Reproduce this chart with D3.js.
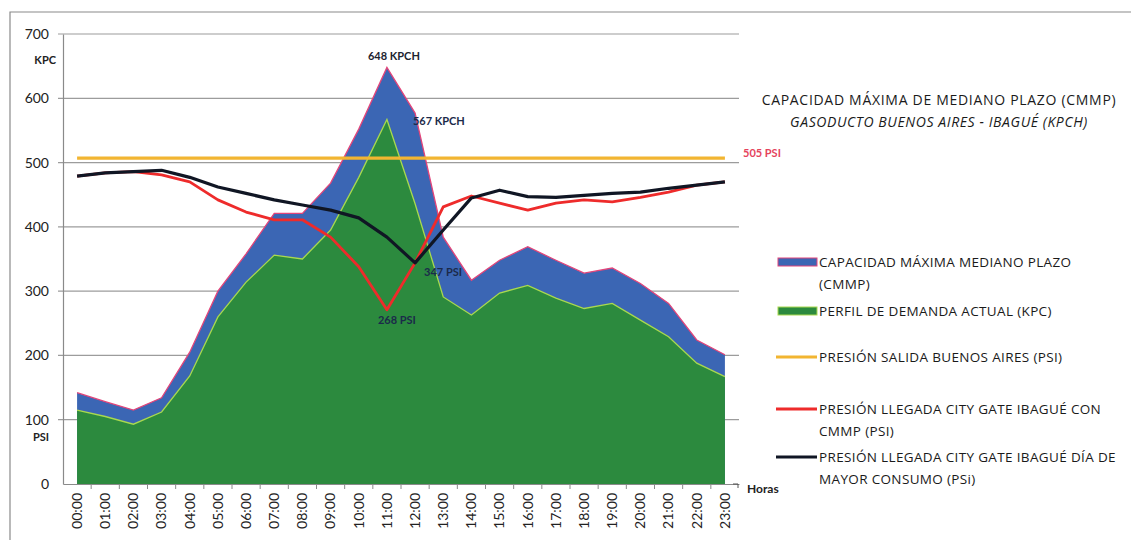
<!DOCTYPE html>
<html>
<head>
<meta charset="utf-8">
<script src="https://cdn.jsdelivr.net/npm/d3@7"></script>
<style>
  body { margin: 0; background: #fff; }
  svg { display: block; font-family: Lato, 'Open Sans', sans-serif; }
</style>
</head>
<body>
<div id="chart"></div>
<script>
// Data
const hours = ['00:00','01:00','02:00','03:00','04:00','05:00','06:00','07:00','08:00','09:00','10:00','11:00',
               '12:00','13:00','14:00','15:00','16:00','17:00','18:00','19:00','20:00','21:00','22:00','23:00'];
const cmmp = [142,128,115,134,205,300,358,421,421,468,552,648,577,384,317,348,369,348,328,336,312,281,224,201];
const demanda = [115,105,93,112,168,260,314,356,350,395,477,567,436,291,263,297,309,289,273,281,255,229,188,167];
const salidaBA = [507,507,507,507,507,507,507,507,507,507,507,507,507,507,507,507,507,507,507,507,507,507,507,507];
const llegadaCmmp = [479,484,486,481,470,442,423,411,411,384,338,271,344,431,448,437,426,437,442,439,446,454,465,470];
const llegadaMax = [479,484,486,488,477,462,452,442,434,426,414,384,344,395,445,457,447,446,449,452,454,460,465,470];
const yTicks = [0,100,200,300,400,500,600,700];

const W = 1131, H = 540;
const plot = { left: 63, right: 739, top: 34, bottom: 484 };

const svg = d3.select('#chart').append('svg')
    .attr('width', W)
    .attr('height', H);

// Outer frame of the scanned chart
svg.append('path')
    .attr('d', `M10,${H} L10,12 L${W},12`)
    .attr('fill', 'none')
    .attr('stroke', '#8a8a8a')
    .attr('stroke-width', 1.2);

const x = d3.scaleBand()
    .domain(hours)
    .range([plot.left, plot.right])
    .padding(0);
const xc = h => x(h) + x.bandwidth() / 2;

const y = d3.scaleLinear()
    .domain([0, 700])
    .range([plot.bottom, plot.top]);

// Gridlines
svg.append('g')
    .selectAll('line')
    .data(yTicks.filter(d => d > 0))
    .enter()
    .append('line')
    .attr('x1', plot.left - 5)
    .attr('x2', plot.right)
    .attr('y1', d => y(d))
    .attr('y2', d => y(d))
    .attr('stroke', '#9c9c9c')
    .attr('stroke-width', 1.2);

// Areas
const rows = hours.map((h, i) => ({ h, cmmp: cmmp[i], dem: demanda[i] }));

svg.append('path')
    .datum(rows)
    .attr('d', d3.area().x(d => xc(d.h)).y0(y(0)).y1(d => y(d.cmmp)))
    .attr('fill', '#3b66b4');
svg.append('path')
    .datum(rows)
    .attr('d', d3.line().x(d => xc(d.h)).y(d => y(d.cmmp)))
    .attr('fill', 'none')
    .attr('stroke', '#e2457a')
    .attr('stroke-width', 1.3);

svg.append('path')
    .datum(rows)
    .attr('d', d3.area().x(d => xc(d.h)).y0(y(0)).y1(d => y(d.dem)))
    .attr('fill', '#2c8a3e');
svg.append('path')
    .datum(rows)
    .attr('d', d3.line().x(d => xc(d.h)).y(d => y(d.dem)))
    .attr('fill', 'none')
    .attr('stroke', '#a9d94e')
    .attr('stroke-width', 1.3);

// Pressure lines
const drawLine = (vals, color, width) => {
    svg.append('path')
        .datum(vals)
        .attr('d', d3.line().x((d, i) => xc(hours[i])).y(d => y(d)))
        .attr('fill', 'none')
        .attr('stroke', color)
        .attr('stroke-width', width)
        .attr('stroke-linejoin', 'round');
};
drawLine(salidaBA, '#f2b531', 3.2);
drawLine(llegadaCmmp, '#ee2b2b', 2.8);
drawLine(llegadaMax, '#101624', 3.2);

// Axes
const yAxis = svg.append('g')
    .attr('transform', `translate(${plot.left},0)`)
    .call(d3.axisLeft(y).tickValues(yTicks).tickSize(0).tickPadding(14));
yAxis.select('.domain').attr('stroke', '#8a8a8a').attr('stroke-width', 1.2);
yAxis.selectAll('text')
    .attr('font-size', 14)
    .attr('fill', '#222')
    .attr('font-family', 'Lato, sans-serif');

const xAxis = svg.append('g')
    .attr('transform', `translate(0,${plot.bottom})`)
    .call(d3.axisBottom(x).tickSize(0).tickPadding(0));
xAxis.select('.domain').attr('stroke', '#8a8a8a').attr('stroke-width', 1.2);
xAxis.selectAll('text')
    .attr('font-size', 14)
    .attr('fill', '#222')
    .attr('font-family', 'Lato, sans-serif')
    .attr('text-anchor', 'end')
    .attr('transform', 'translate(0,9) rotate(-90)')
    .attr('dx', 0)
    .attr('dy', '0.35em')
    .attr('y', 0);

// Tick marks between categories
xAxis.selectAll('.sep')
    .data(hours.slice(1))
    .enter()
    .append('line')
    .attr('x1', d => x(d))
    .attr('x2', d => x(d))
    .attr('y1', 0)
    .attr('y2', 5)
    .attr('stroke', '#8a8a8a');

// Unit labels on the left axis
svg.append('text')
    .attr('x', 56).attr('y', y(700) + 30)
    .attr('text-anchor', 'end')
    .attr('font-size', 11).attr('font-weight', 'bold').attr('fill', '#222')
    .text('KPC');
svg.append('text')
    .attr('x', 49).attr('y', y(100) + 21)
    .attr('text-anchor', 'end')
    .attr('font-size', 11).attr('font-weight', 'bold').attr('fill', '#222')
    .text('PSI');

svg.append('path')
    .attr('d', `M${plot.right - 6},${plot.bottom} L${plot.right - 1},${plot.bottom} L${plot.right - 1},${plot.bottom + 4}`)
    .attr('fill', 'none')
    .attr('stroke', '#555');
svg.append('text')
    .attr('x', 747).attr('y', 493)
    .attr('font-size', 12).attr('font-weight', 'bold').attr('fill', '#222')
    .text('Horas');

// Point annotations
const note = (txt, xp, yp, anchor, color) => svg.append('text')
    .attr('x', xp).attr('y', yp)
    .attr('text-anchor', anchor)
    .attr('font-size', 11).attr('font-weight', 'bold')
    .attr('fill', color)
    .text(txt);
note('648 KPCH', xc('11:00') + 7, y(648) - 7, 'middle', '#1c2330');
note('567 KPCH', xc('11:00') + 26, y(567) + 5, 'start', '#1b2a4a');
note('347 PSI', xc('12:00') + 9, y(344) + 13, 'start', '#1b2a4a');
note('268 PSI', xc('11:00') + 10, y(271) + 14, 'middle', '#1b2a4a');
note('505 PSI', 743, 157, 'start', '#e5435c');

// Title
svg.append('text')
    .attr('x', 939).attr('y', 105)
    .attr('text-anchor', 'middle')
    .attr('font-family', "'Open Sans', sans-serif")
    .attr('font-size', 14).attr('letter-spacing', 0.7).attr('fill', '#1a1a1a')
    .text('CAPACIDAD MÁXIMA DE MEDIANO PLAZO (CMMP)');
svg.append('text')
    .attr('x', 939).attr('y', 127)
    .attr('text-anchor', 'middle')
    .attr('font-family', "'Open Sans', sans-serif")
    .attr('font-size', 14).attr('letter-spacing', 0.6).attr('font-style', 'italic').attr('fill', '#1a1a1a')
    .text('GASODUCTO BUENOS AIRES - IBAGUÉ (KPCH)');

// Legend
const legendItems = [
    { lines: ['CAPACIDAD MÁXIMA  MEDIANO PLAZO', '(CMMP)'], y: 262, kind: 'rect', fill: '#3b66b4', stroke: '#e2457a' },
    { lines: ['PERFIL DE DEMANDA ACTUAL (KPC)'], y: 311, kind: 'rect', fill: '#2c8a3e', stroke: '#a9d94e' },
    { lines: ['PRESIÓN SALIDA BUENOS AIRES (PSI)'], y: 357, kind: 'line', stroke: '#f2b531' },
    { lines: ['PRESIÓN LLEGADA CITY GATE IBAGUÉ CON', 'CMMP (PSI)'], y: 409, kind: 'line', stroke: '#ee2b2b' },
    { lines: ['PRESIÓN LLEGADA CITY GATE IBAGUÉ DÍA DE', 'MAYOR CONSUMO (PSi)'], y: 457, kind: 'line', stroke: '#101624' }
];
const legend = svg.append('g');
legendItems.forEach(item => {
    if (item.kind === 'rect') {
        legend.append('rect')
            .attr('x', 778).attr('y', item.y - 4)
            .attr('width', 39).attr('height', 8)
            .attr('fill', item.fill)
            .attr('stroke', item.stroke)
            .attr('stroke-width', 1);
    } else {
        legend.append('line')
            .attr('x1', 776).attr('x2', 817)
            .attr('y1', item.y).attr('y2', item.y)
            .attr('stroke', item.stroke)
            .attr('stroke-width', 3);
    }
    item.lines.forEach((t, k) => {
        legend.append('text')
            .attr('x', 819).attr('y', item.y + k * 22)
            .attr('dy', '0.35em')
            .attr('font-family', "'Open Sans', sans-serif")
            .attr('font-size', 13.5).attr('letter-spacing', 0.35).attr('fill', '#1a1a1a')
            .text(t);
    });
});
</script>
</body>
</html>
